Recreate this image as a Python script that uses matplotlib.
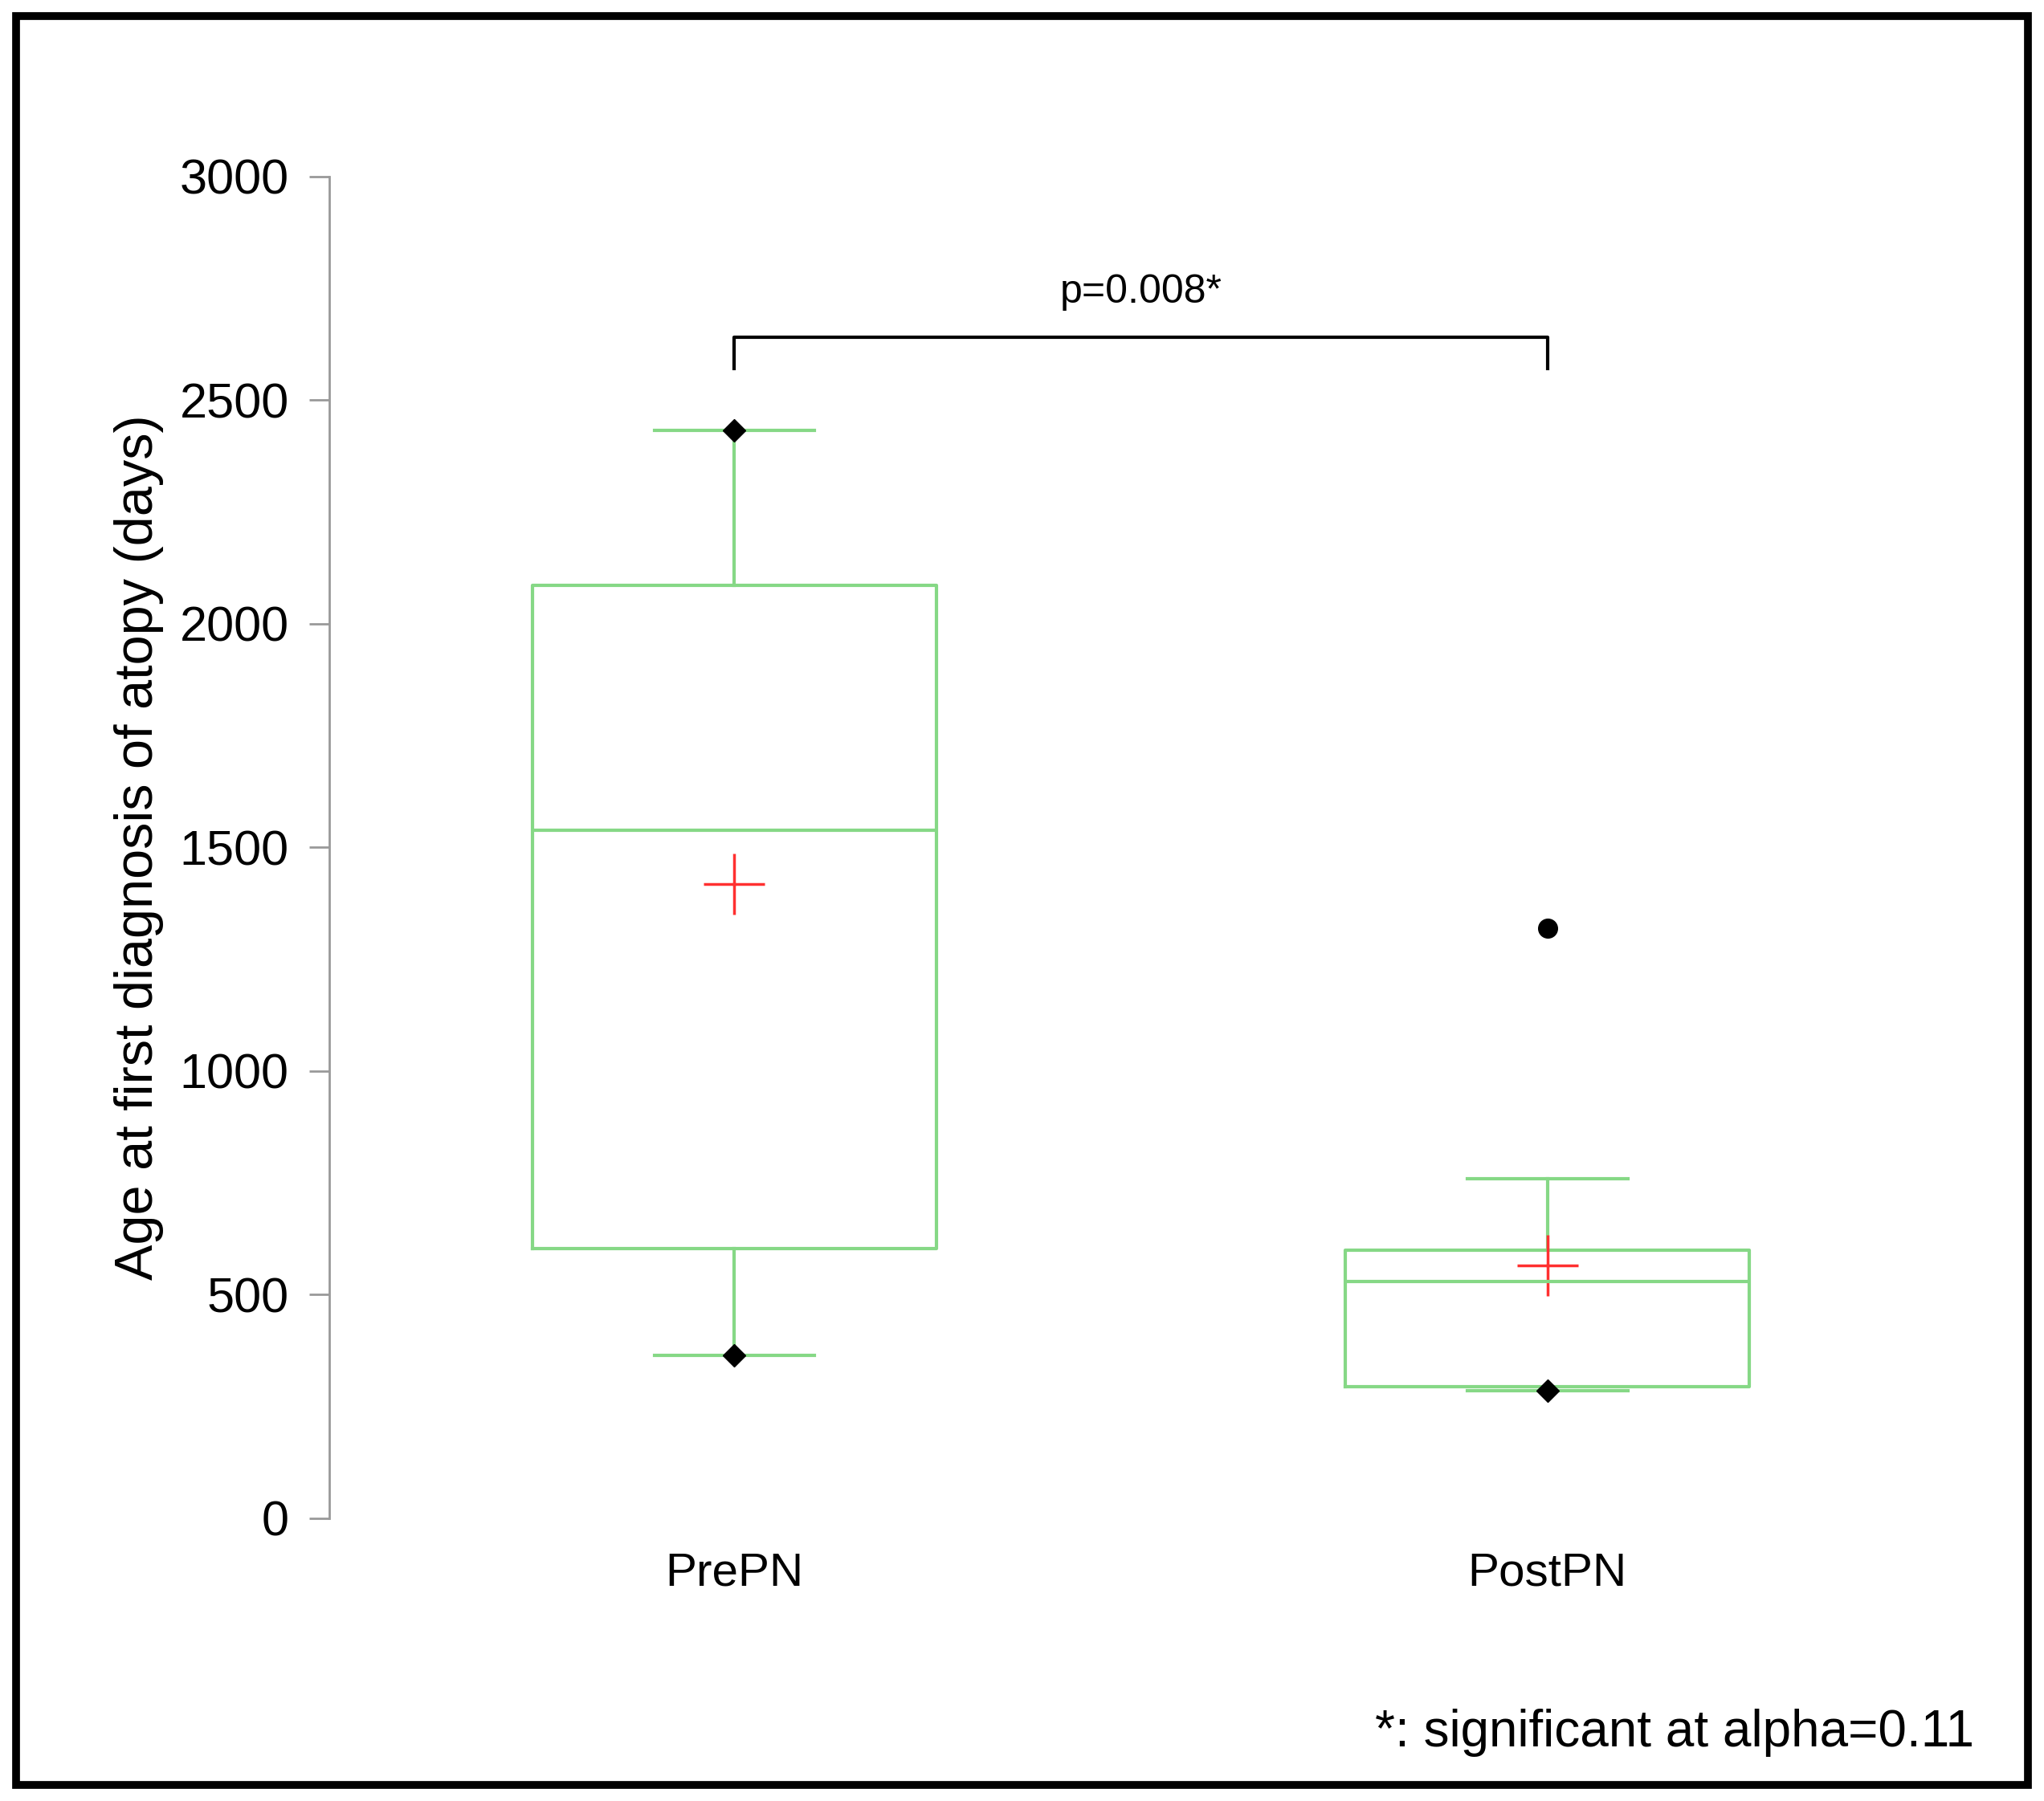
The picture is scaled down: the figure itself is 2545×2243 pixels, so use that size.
import matplotlib.pyplot as plt
from matplotlib.patches import Rectangle

plt.rcParams['font.family'] = ['Liberation Sans', 'DejaVu Sans']

# 그룹별 상자그림 값
groups = ['PrePN', 'PostPN']
q1 = [603, 294]
median = [1538, 530]
q3 = [2086, 600]
whis_lo = [364, 285]
whis_hi = [2432, 760]
means = [1418, 565]
outliers = [[], [1320]]
yticks = [0, 500, 1000, 1500, 2000, 2500, 3000]

green = '#86d886'
fig = plt.figure(figsize=(25.45, 22.43), dpi=100)
ax = fig.add_axes([0.161, 0.157, 0.795, 0.745])

stats = []
for i, g in enumerate(groups):
    stats.append(dict(label=g, q1=q1[i], med=median[i], q3=q3[i],
                      whislo=whis_lo[i], whishi=whis_hi[i], fliers=outliers[i]))
pos = [1, 2]
ax.bxp(stats, positions=pos, widths=0.497, showfliers=False, capwidths=0.197,
       boxprops=dict(color=green, lw=3), medianprops=dict(color=green, lw=3),
       whiskerprops=dict(color=green, lw=3), capprops=dict(color=green, lw=3))

# 최소/최대값 (이상치가 있으면 최대값은 이상치), 평균
for i, p in enumerate(pos):
    ax.plot(p, whis_lo[i], 'D', color='black', ms=14)
    if outliers[i]:
        for o in outliers[i]:
            ax.plot(p, o, 'o', color='black', ms=17)
    else:
        ax.plot(p, whis_hi[i], 'D', color='black', ms=14)
    ax.plot(p, means[i], '+', color='#ff3030', ms=55, mew=2.5)

ax.set_xlim(0.5016, 2.5)
ax.set_ylim(0, 3000)
ax.set_yticks(yticks)
ax.set_xticks(pos)
ax.set_xticklabels(groups, fontsize=42)
ax.tick_params(axis='x', length=0, pad=30)
ax.tick_params(axis='y', labelsize=44, length=18, width=2, color='#999999', pad=18)
for s in ['top', 'right', 'bottom']:
    ax.spines[s].set_visible(False)
ax.spines['left'].set_color('#999999')
ax.spines['left'].set_linewidth(2)
ax.set_ylabel('Age at first diagnosis of atopy (days)', fontsize=48, labelpad=14)

# 유의성 표시
ax.plot([1, 1, 2, 2], [2570, 2640, 2640, 2570], color='black', lw=3)
ax.text(1.5, 2700, 'p=0.008*', ha='center', va='bottom', fontsize=36)

fig.text(0.966, 0.038, '*: significant at alpha=0.11', ha='right', va='center', fontsize=46)
fig.patches.append(Rectangle((0.008, 0.009), 0.984, 0.982, transform=fig.transFigure,
                             fill=False, ec='black', lw=7))
fig.savefig('out.png')
